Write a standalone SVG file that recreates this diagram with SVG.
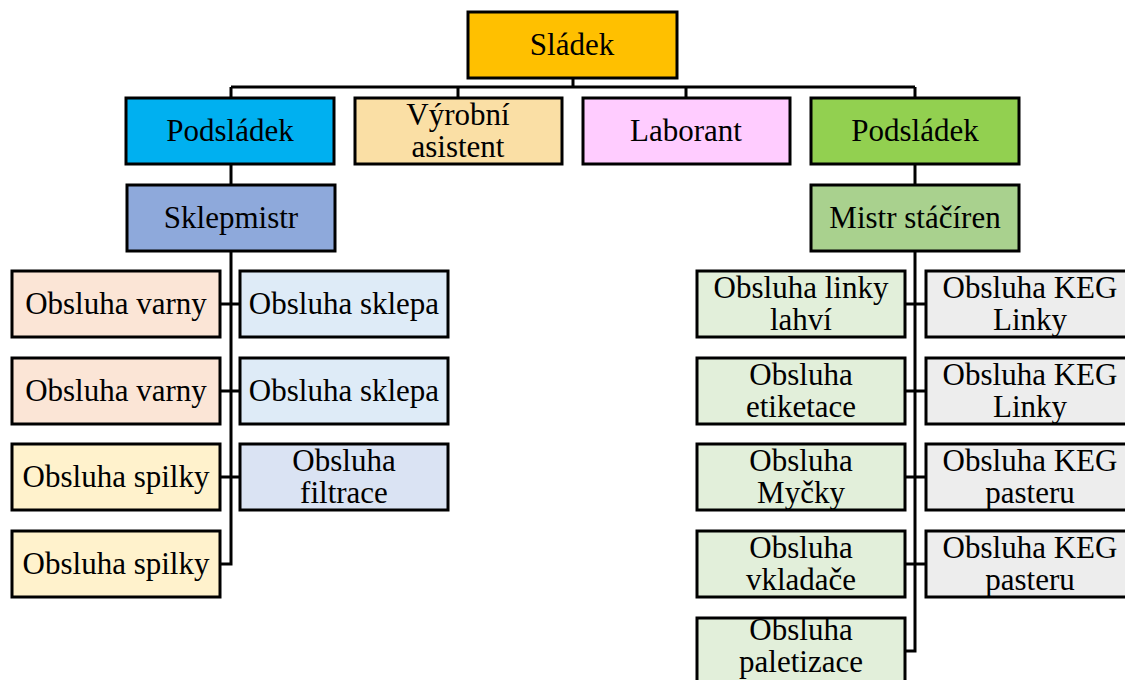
<svg xmlns="http://www.w3.org/2000/svg" width="1125" height="680" viewBox="0 0 1125 680">
<style>
rect{stroke:#000;stroke-width:3}
text{font-family:"Liberation Serif","Times New Roman",serif;font-size:31px;fill:#000;text-anchor:middle}
.c{fill:none;stroke:#000;stroke-width:3}
</style>
<rect x="0" y="0" width="1125" height="680" fill="#fff" style="stroke:none"/>
<g id="connectors">
<path class="c" d="M573 78V87M231 87H915M231 87V98M458 87V98M686 87V98M915 87V98"/>
<path class="c" d="M231 164V185M231 251V564H220M220 304H240M220 391H240M220 477H240"/>
<path class="c" d="M915 164V185M915 251V651H905M905 304H926M905 391H926M905 477H926M905 564H926"/>
</g>
<g id="sladek"><rect x="468" y="12" width="209" height="66" fill="#FFC000"/><text x="572" y="55">Sládek</text></g>
<g id="podsladek1"><rect x="126" y="98" width="208" height="66" fill="#00B0F0"/><text x="230" y="141">Podsládek</text></g>
<g id="vyrobni"><rect x="355" y="98" width="207" height="66" fill="#FADFA5"/><text x="458" y="125">Výrobní</text><text x="458" y="157">asistent</text></g>
<g id="laborant"><rect x="583" y="98" width="207" height="66" fill="#FFCCFF"/><text x="686" y="141">Laborant</text></g>
<g id="podsladek2"><rect x="811" y="98" width="208" height="66" fill="#92D050"/><text x="915" y="141">Podsládek</text></g>
<g id="sklepmistr"><rect x="127" y="185" width="208" height="66" fill="#8EA9DB"/><text x="231" y="228">Sklepmistr</text></g>
<g id="mistr"><rect x="811" y="185" width="208" height="66" fill="#A9D18E"/><text x="915" y="228">Mistr stáčíren</text></g>
<g id="varny1"><rect x="12" y="271" width="208" height="66" fill="#FBE5D6"/><text x="116" y="314">Obsluha varny</text></g>
<g id="varny2"><rect x="12" y="358" width="208" height="66" fill="#FBE5D6"/><text x="116" y="401">Obsluha varny</text></g>
<g id="spilky1"><rect x="12" y="444" width="208" height="66" fill="#FFF2CC"/><text x="116" y="487">Obsluha spilky</text></g>
<g id="spilky2"><rect x="12" y="531" width="208" height="66" fill="#FFF2CC"/><text x="116" y="574">Obsluha spilky</text></g>
<g id="sklepa1"><rect x="240" y="271" width="208" height="66" fill="#DEEBF7"/><text x="344" y="314">Obsluha sklepa</text></g>
<g id="sklepa2"><rect x="240" y="358" width="208" height="66" fill="#DEEBF7"/><text x="344" y="401">Obsluha sklepa</text></g>
<g id="filtrace"><rect x="240" y="444" width="208" height="66" fill="#DAE3F3"/><text x="344" y="471">Obsluha</text><text x="344" y="503">filtrace</text></g>
<g id="lahvi"><rect x="697" y="271" width="208" height="66" fill="#E2EFDA"/><text x="801" y="298">Obsluha linky</text><text x="801" y="330">lahví</text></g>
<g id="etiketace"><rect x="697" y="358" width="208" height="66" fill="#E2EFDA"/><text x="801" y="385">Obsluha</text><text x="801" y="417">etiketace</text></g>
<g id="mycky"><rect x="697" y="444" width="208" height="66" fill="#E2EFDA"/><text x="801" y="471">Obsluha</text><text x="801" y="503">Myčky</text></g>
<g id="vkladace"><rect x="697" y="531" width="208" height="66" fill="#E2EFDA"/><text x="801" y="558">Obsluha</text><text x="801" y="590">vkladače</text></g>
<g id="paletizace"><rect x="697" y="618" width="208" height="66" fill="#E2EFDA"/><text x="801" y="640">Obsluha</text><text x="801" y="672">paletizace</text></g>
<g id="keg1"><rect x="926" y="271" width="208" height="66" fill="#EDEDED"/><text x="1030" y="298">Obsluha KEG</text><text x="1030" y="330">Linky</text></g>
<g id="keg2"><rect x="926" y="358" width="208" height="66" fill="#EDEDED"/><text x="1030" y="385">Obsluha KEG</text><text x="1030" y="417">Linky</text></g>
<g id="keg3"><rect x="926" y="444" width="208" height="66" fill="#EDEDED"/><text x="1030" y="471">Obsluha KEG</text><text x="1030" y="503">pasteru</text></g>
<g id="keg4"><rect x="926" y="531" width="208" height="66" fill="#EDEDED"/><text x="1030" y="558">Obsluha KEG</text><text x="1030" y="590">pasteru</text></g>
</svg>
